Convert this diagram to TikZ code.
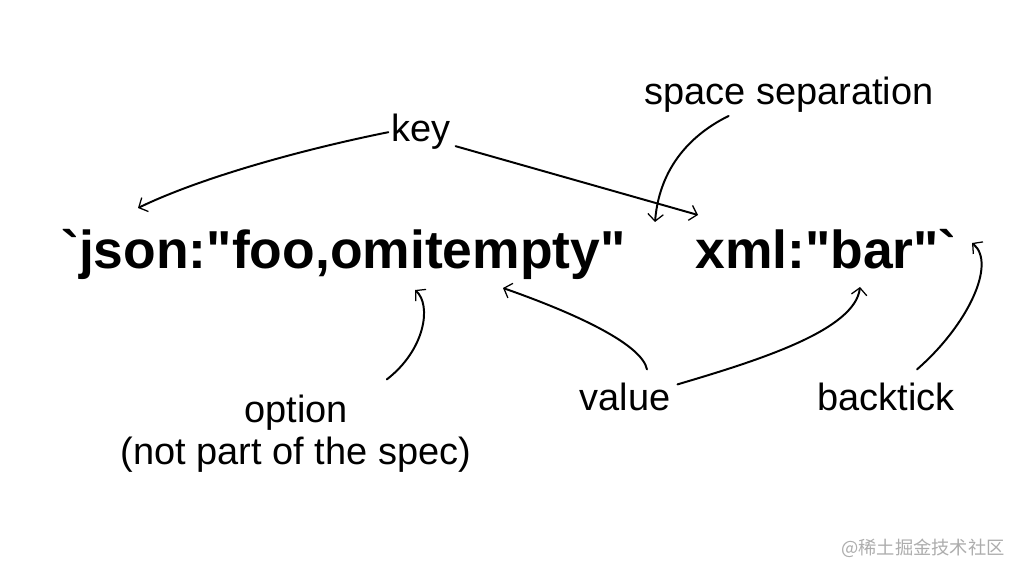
\documentclass[tikz,border=0pt]{standalone}
\usepackage{fontspec}
\setmainfont{Liberation Sans}
\newfontfamily\tagfont{Liberation Sans}[Ligatures=TeXOff]
\newfontfamily\cjkfont{Noto Sans CJK SC}
\usetikzlibrary{arrows.meta,calc}

\begin{document}
\begin{tikzpicture}[x=0.025cm, y=-0.025cm,
	tagtext/.style={font=\tagfont\fontsize{38}{44}\selectfont\bfseries, inner sep=0pt, anchor=base west},
	note/.style={font=\fontsize{27}{32}\selectfont, inner sep=2pt, anchor=base},
	pointer/.style={line width=1.4pt, line cap=round,
		-{Straight Barb[length=5pt,width=11pt,line width=0.9pt]}}]
	\fill[white] (0,0) rectangle (1024,576);
	\useasboundingbox (0,0) rectangle (1024,576);
	% the struct tag
	\node (jsontag) [tagtext] at (61,269) {`json:"foo,omitempty"};
	\node (xmltag) [tagtext] at (695,269) {xml:"bar"`};
	% labels
	\node (key) [note] at (421,142) {key};
	\node (spacesep) [note] at (789,105) {space separation};
	\node (option) [note] at (296,422) {option};
	\node (optnote) [note] at (296,464) {(not part of the spec)};
	\node (value) [note] at (625,410) {value};
	\node (backtick) [note] at (886,410) {backtick};
	% where the arrows point
	\coordinate (jsonmark) at (138,208);
	\coordinate (xmlmark) at (698,215);
	\coordinate (gapmark) at (655,222);
	\coordinate (optmark) at (415,290);
	\coordinate (valmarkA) at (503,288);
	\coordinate (valmarkB) at (860,287);
	\coordinate (tickmark) at (972,243);
	\draw [pointer] (key.west) .. controls (300,150) and (200,178) .. (jsonmark);
	\draw [pointer] ($(key.east)+(2,14)$) -- (xmlmark);
	\draw [pointer] (spacesep.199) .. controls (700,130) and (660,160) .. (gapmark);
	\draw [pointer] ($(option.north east)+(36,-12)$) .. controls (425,350) and (432,305) .. (optmark);
	\draw [pointer] ($(value.north)+(22,-10)$) .. controls (642,345) and (580,315) .. (valmarkA);
	\draw [pointer] ($(value.north east)+(4,5)$) .. controls (760,360) and (855,330) .. (valmarkB);
	\draw [pointer] ($(backtick.north)+(31,-10)$) .. controls (968,325) and (997,263) .. (tickmark);
	% watermark
	\node (mark) [font=\cjkfont\fontsize{13}{15}\selectfont, text=black!32, anchor=east,
		inner sep=0pt] at (1005,548) {@稀土掘金技术社区};
\end{tikzpicture}
\end{document}
